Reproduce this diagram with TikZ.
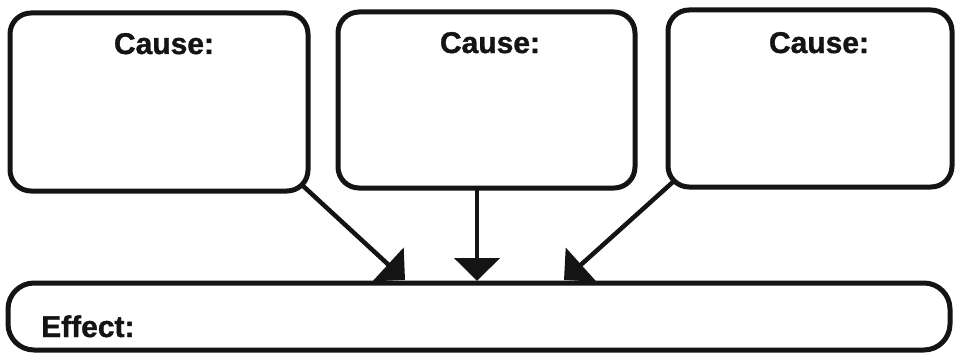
\documentclass[tikz,border=0pt]{standalone}
\usepackage{fontspec}
\setmainfont{Liberation Sans}[BoldFeatures={FakeBold=1.2}]
\usetikzlibrary{arrows.meta,calc}
\tikzset{
  causebox/.style={draw=black!92, line width=5pt, rounded corners=21pt, fill=white,
    inner sep=0pt, outer sep=0pt},
  effectbox/.style={draw=black!92, line width=5pt, rounded corners=26pt,
    inner sep=0pt, outer sep=0pt},
  heading/.style={font=\bfseries\fontsize{30}{36}\selectfont, text=black!92,
    inner sep=0pt, anchor=base},
  linkarrow/.style={draw=black!92, line width=4.5pt,
    -{Triangle[length=23pt,width=45pt]}},
}
\begin{document}
\begin{tikzpicture}[x=1pt,y=-1pt]
  \useasboundingbox (0,0) rectangle (955,353);
  % three cause boxes and the effect strip
  \node[causebox, minimum width=298pt, minimum height=178pt] (c1) at (159,102) {};
  \node[causebox, minimum width=297pt, minimum height=176pt] (c2) at (486.5,100) {};
  \node[causebox, minimum width=284pt, minimum height=177pt] (c3) at (810,98.5) {};
  \node[effectbox, minimum width=942pt, minimum height=67pt] (eff) at (479,316.5) {};
  % headings
  \node[heading] (t1) at (164,54) {Cause:};
  \node[heading] (t2) at (490,53) {Cause:};
  \node[heading] (t3) at (819,53) {Cause:};
  \node[heading, anchor=base west] (te) at (41,337) {Effect:};
  % arrow tips resting on the effect strip
  \coordinate (a1) at (405,280);
  \coordinate (a2) at (477,281);
  \coordinate (a3) at (564,280);
  % connectors
  \draw[linkarrow] ($(c1.south east)+(-6,-6)$) -- (a1);
  \draw[linkarrow] (c2.south -| a2) -- (a2);
  \draw[linkarrow] ($(c3.south west)+(6,-6)$) -- (a3);
\end{tikzpicture}
\end{document}
